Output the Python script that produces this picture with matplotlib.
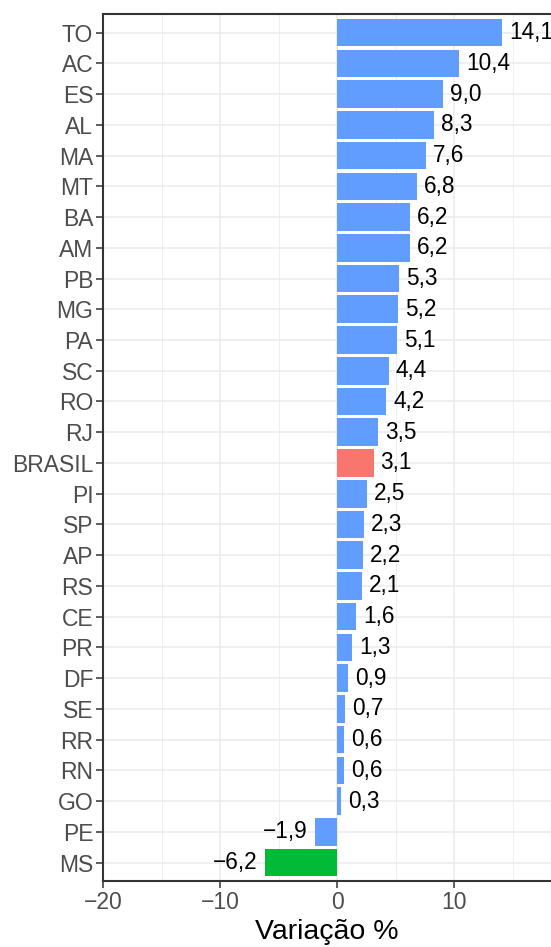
import matplotlib.pyplot as plt
import numpy as np

plt.rcParams['font.family'] = ['Liberation Sans', 'DejaVu Sans']

estados = ['TO', 'AC', 'ES', 'AL', 'MA', 'MT', 'BA', 'AM', 'PB', 'MG', 'PA', 'SC', 'RO', 'RJ',
           'BRASIL', 'PI', 'SP', 'AP', 'RS', 'CE', 'PR', 'DF', 'SE', 'RR', 'RN', 'GO', 'PE', 'MS']
variacao = [14.1, 10.4, 9.0, 8.3, 7.6, 6.8, 6.2, 6.2, 5.3, 5.2, 5.1, 4.4, 4.2, 3.5,
            3.1, 2.5, 2.3, 2.2, 2.1, 1.6, 1.3, 0.9, 0.7, 0.6, 0.6, 0.3, -1.9, -6.2]
x_ticks = [-20, -10, 0, 10]

def cor(nome, v):
    if nome == 'BRASIL':
        return '#F8766D'
    if nome == 'MS':
        return '#00BA38'
    return '#619CFF'

def fmt(v):
    return f'{v:.1f}'.replace('.', ',').replace('-', '\u2212')

fig = plt.figure(figsize=(5.51, 9.47), dpi=100)
ax = fig.add_axes([0.187, 0.0697, 0.813, 0.9153])

n = len(estados)
y = np.arange(n)[::-1]
cores = [cor(e, v) for e, v in zip(estados, variacao)]
ax.barh(y, variacao, height=0.9, color=cores, zorder=3)

for yi, v in zip(y, variacao):
    if v >= 0:
        ax.text(v + 0.6, yi, fmt(v), va='center', ha='left', fontsize=16.3, color='black', zorder=4)
    else:
        ax.text(v - 0.6, yi, fmt(v), va='center', ha='right', fontsize=16.3, color='black', zorder=4)

ax.set_xlim(-20, 18.25)
ax.set_ylim(-0.6, n - 1 + 0.6)
ax.set_yticks(y)
ax.set_yticklabels(estados)
ax.set_xticks(x_ticks)
ax.set_xticklabels([str(t).replace('-', '\u2212') for t in x_ticks])
ax.set_xticks([-15, -5, 5, 15], minor=True)

ax.grid(True, which='major', color='#EBEBEB', linewidth=1.1, zorder=0)
ax.grid(True, which='minor', axis='x', color='#EBEBEB', linewidth=0.6, zorder=0)
ax.set_axisbelow(True)

ax.tick_params(axis='both', which='major', labelsize=16.5, labelcolor='#4D4D4D',
               color='#333333', length=5, width=1.1, pad=2)
ax.tick_params(axis='x', which='minor', length=0)

for s in ['left', 'bottom', 'top']:
    ax.spines[s].set_color('#333333')
    ax.spines[s].set_linewidth(1.5)
ax.spines['right'].set_visible(False)

ax.set_xlabel('Variação %', fontsize=20.5, labelpad=4)

fig.savefig('out.png', dpi=100)
